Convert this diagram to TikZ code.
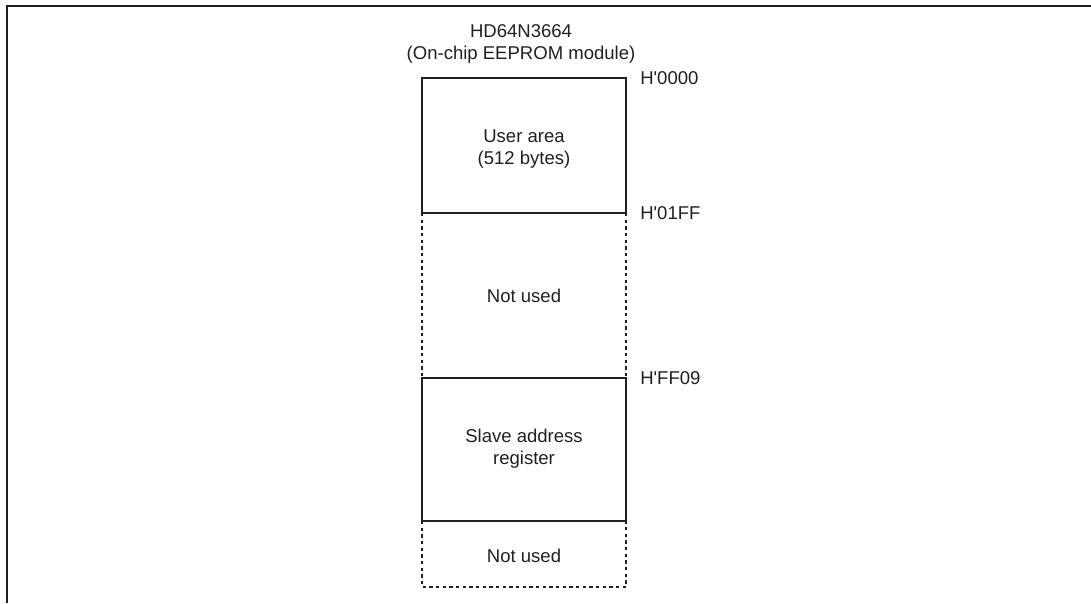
\documentclass[tikz,border=0pt]{standalone}
\usepackage{fontspec}
\setmainfont{Liberation Sans}
\definecolor{ink}{RGB}{35,31,32}

\begin{document}
\begin{tikzpicture}[
x=0.75pt, y=-0.75pt,
bereich/.style={draw=ink, line width=1.4pt},
frei/.style={bereich, dash pattern=on 2.5pt off 2.5pt},
beschriftung/.style={text=ink, font=\fontsize{13.9}{16.5}\selectfont, align=center, inner sep=0pt},
adresse/.style={beschriftung, anchor=west},
]
\useasboundingbox (0,0) rectangle (1091,603);
\draw[ink, line width=2pt] (7,603) -- (7,6) -- (1091,6);

% Speicherbereiche
\draw[bereich] (422,78) rectangle (626,213);
\draw[frei] (422,213) -- (422,378);
\draw[frei] (626,213) -- (626,378);
\draw[bereich] (422,378) rectangle (626,521);
\draw[frei] (422,521) -- (422,587) -- (626,587) -- (626,521);

\node[beschriftung] (titel) at (521,44) {HD64N3664\\(On-chip EEPROM module)};

\node[beschriftung] (user) at (524,149) {User area\\(512 bytes)};
\node[beschriftung] (leer1) at (524,296) {Not used};
\node[beschriftung] (slave) at (524,449) {Slave address\\register};
\node[beschriftung] (leer2) at (524,556) {Not used};

% Adressen
\node[adresse] (a0000) at (640,78) {H\textquotesingle 0000};
\node[adresse] (a01ff) at (640,213) {H\textquotesingle 01FF};
\node[adresse] (aff09) at (640,378) {H\textquotesingle FF09};

\end{tikzpicture}
\end{document}
